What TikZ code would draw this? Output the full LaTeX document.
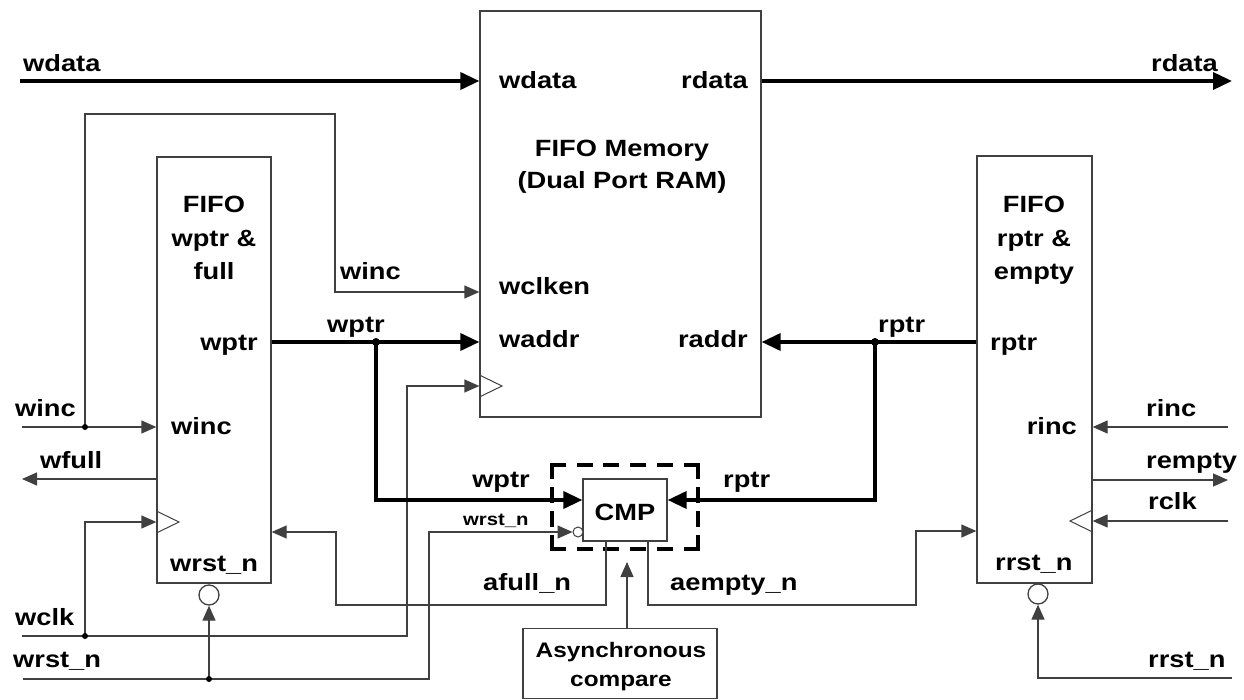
\documentclass[tikz,border=0pt]{standalone}
\usepackage{fontspec}
\newfontfamily\labfont{Liberation Sans}[FakeStretch=1.16]
\usetikzlibrary{arrows.meta}
\tikzset{
  box/.style={draw=black!75, line width=1.3pt, inner sep=0pt},
  dashh/.style={draw=black, line width=4pt, line cap=rect, dash pattern=on 12pt off 14.8pt},
  dashv/.style={draw=black, line width=4pt, line cap=rect, dash pattern=on 12pt off 12pt},
  thin/.style={draw=black!75, line width=1.3pt},
  bus/.style={draw=black, line width=3.6pt},
  tarr/.style={-{Triangle[length=15pt,width=13pt]}},
  barr/.style={-{Triangle[length=19pt,width=17pt]}},
  lbl/.style={font=\labfont\bfseries\fontsize{23.5}{27}\selectfont, inner sep=0pt},
  mlbl/.style={font=\labfont\bfseries\fontsize{21}{24}\selectfont, inner sep=0pt},
  slbl/.style={font=\labfont\bfseries\fontsize{17.5}{20}\selectfont, inner sep=0pt},
  dot/.style={circle, fill=black, inner sep=0pt, minimum size=7pt},
  bubble/.style={circle, draw=black!75, line width=1.3pt, fill=white, inner sep=0pt},
}
\begin{document}
\begin{tikzpicture}[x=1pt,y=-1pt]
\useasboundingbox (0,0) rectangle (1244,700);

% boxes
\node[box, minimum width=281pt, minimum height=406pt] (mem) at (620.5,214) {};
\node[box, minimum width=114pt, minimum height=426pt] (wbox) at (214,370) {};
\node[box, minimum width=115pt, minimum height=427pt] (rbox) at (1034.5,369.5) {};
\node[inner sep=0pt, minimum width=146pt, minimum height=84pt] (cmpd) at (625,507) {};
\draw[dashh] (cmpd.north west) -- (cmpd.north east);
\draw[dashh] (cmpd.south west) -- (cmpd.south east);
\draw[dashv] (cmpd.north west) -- (cmpd.south west);
\draw[dashv] (cmpd.north east) -- (cmpd.south east);
\node[box, fill=white, minimum width=84pt, minimum height=62pt] (cmp) at (625,510) {};
\node[box, minimum width=194pt, minimum height=70pt] (async) at (620,663.5) {};

% bubbles
\node[bubble, minimum size=20pt] (wbub) at (209,595) {};
\node[bubble, minimum size=20pt] (rbub) at (1038,594) {};
\node[bubble, minimum size=10pt, line width=1pt] (cbub) at (578,532) {};

% clock triangles
\draw[thin, line width=1pt] (mem.west |- 0,375) -- (502,386) -- (mem.west |- 0,397);
\draw[thin, line width=1pt] (wbox.west |- 0,511) -- (179,522) -- (wbox.west |- 0,533);
\draw[thin, line width=1pt] (rbox.east |- 0,510) -- (1070,521) -- (rbox.east |- 0,532);

% free-end coordinates
\coordinate (wdin) at (20,81);
\coordinate (rdout) at (1232,81);
\coordinate (wincin) at (22,427);
\coordinate (wincdot) at (85,427);
\coordinate (wfullout) at (22,479);
\coordinate (wclkin) at (22,636);
\coordinate (wclkdot) at (85,636);
\coordinate (wrstin) at (23,679);
\coordinate (wrstdot) at (209,679);
\coordinate (wptrdot) at (376,342);
\coordinate (rptrdot) at (875,342);
\coordinate (rincin) at (1228,427);
\coordinate (remptyout) at (1228,480);
\coordinate (rclkin) at (1228,521);
\coordinate (rrstin) at (1232,678);
\coordinate (asyncup) at (627,562);

% data buses
\draw[bus, barr] (wdin) -- (wdin -| mem.west);
\draw[bus, barr] (mem.east |- rdout) -- (rdout);

% write side
\draw[thin, tarr] (wincin) -- (wincin -| wbox.west);
\draw[thin, tarr] (wincdot) -- (85,114) -- (335,114) -- (335,292) -- (mem.west |- 0,292);
\draw[thin, tarr] (wbox.west |- wfullout) -- (wfullout);
\draw[thin, tarr] (wclkin) -| (407,386) -- (mem.west |- 0,386);
\draw[thin, tarr] (wclkdot) |- (wbox.west |- 0,522);
\draw[thin, tarr] (wrstin) -| (429,532) -- (cbub.west);
\draw[thin, tarr] (wrstdot) -- (wbub.south);

% pointers
\draw[bus, barr] (wbox.east |- wptrdot) -- (mem.west |- wptrdot);
\draw[bus, barr] (wptrdot) |- (cmp.west |- 0,500);
\draw[bus, barr] (rbox.west |- rptrdot) -- (mem.east |- rptrdot);
\draw[bus, barr] (rptrdot) |- (cmp.east |- 0,500);

% compare outputs
\draw[thin, tarr] (cmp.south -| 606,0) -- (606,605) -| (336,532) -- (wbox.east |- 0,532);
\draw[thin, tarr] (cmp.south -| 648,0) -- (648,605) -| (916,531) -- (rbox.west |- 0,531);
\draw[thin, tarr] (async.north -| asyncup) -- (asyncup);

% read side
\draw[thin, tarr] (rincin) -- (rincin -| rbox.east);
\draw[thin, tarr] (rbox.east |- remptyout) -- (remptyout);
\draw[thin, tarr] (rclkin) -- (rclkin -| rbox.east);
\draw[thin, tarr] (rrstin) -| (rbub.south);

% dots
\node[dot, minimum size=6pt] (d1) at (wincdot) {};
\node[dot, minimum size=6pt] (d2) at (wclkdot) {};
\node[dot, minimum size=6pt] (d3) at (wrstdot) {};
\node[dot, minimum size=8pt] (d4) at (wptrdot) {};
\node[dot, minimum size=8pt] (d5) at (rptrdot) {};

% labels
\node[lbl, anchor=base west] (t1) at (23,72) {wdata};
\node[lbl, anchor=base east] (t2) at (1218,72) {rdata};
\node[lbl, anchor=base west] (t3) at (499,89) {wdata};
\node[lbl, anchor=base east] (t4) at (748,89) {rdata};
\node[lbl, anchor=base] (t5) at (622,157) {FIFO Memory};
\node[lbl, anchor=base] (t6) at (622,189) {(Dual Port RAM)};
\node[lbl, anchor=base west] (t7) at (340,280) {winc};
\node[lbl, anchor=base west] (t8) at (499,295) {wclken};
\node[lbl, anchor=base west] (t9) at (327,333) {wptr};
\node[lbl, anchor=base west] (t10) at (499,347) {waddr};
\node[lbl, anchor=base east] (t11) at (748,347) {raddr};
\node[lbl, anchor=base west] (t12) at (878,333) {rptr};

\node[lbl, anchor=base] (t13) at (214,213) {FIFO};
\node[lbl, anchor=base] (t14) at (214,247) {wptr \&};
\node[lbl, anchor=base] (t15) at (214,280) {full};
\node[lbl, anchor=base east] (t16) at (258,350) {wptr};
\node[lbl, anchor=base west] (t17) at (171,434) {winc};
\node[lbl, anchor=base west] (t18) at (170,571) {wrst\_n};

\node[lbl, anchor=base] (t19) at (1034,213) {FIFO};
\node[lbl, anchor=base] (t20) at (1034,247) {rptr \&};
\node[lbl, anchor=base] (t21) at (1034,280) {empty};
\node[lbl, anchor=base west] (t22) at (990,350) {rptr};
\node[lbl, anchor=base east] (t23) at (1077,434) {rinc};
\node[lbl, anchor=base west] (t24) at (995,570) {rrst\_n};

\node[lbl, anchor=base west] (t25) at (15,416) {winc};
\node[lbl, anchor=base west] (t26) at (40,468) {wfull};
\node[lbl, anchor=base west] (t27) at (15,625) {wclk};
\node[lbl, anchor=base west] (t28) at (13,667) {wrst\_n};

\node[lbl, anchor=base east] (t29) at (530,487) {wptr};
\node[lbl, anchor=base west] (t30) at (723,487) {rptr};
\node[slbl, anchor=base west] (t31) at (463,525) {wrst\_n};
\node[lbl, anchor=base] (t32) at (cmp.center |- 0,520) {CMP};
\node[lbl, anchor=base west] (t33) at (483,590) {afull\_n};
\node[lbl, anchor=base west] (t34) at (670,590) {aempty\_n};
\node[mlbl, anchor=base] (t35) at (621,657) {Asynchronous};
\node[mlbl, anchor=base] (t36) at (621,686) {compare};

\node[lbl, anchor=base west] (t37) at (1146,416) {rinc};
\node[lbl, anchor=base west] (t38) at (1146,468) {rempty};
\node[lbl, anchor=base west] (t39) at (1148,509) {rclk};
\node[lbl, anchor=base west] (t40) at (1148,667) {rrst\_n};
\end{tikzpicture}
\end{document}
